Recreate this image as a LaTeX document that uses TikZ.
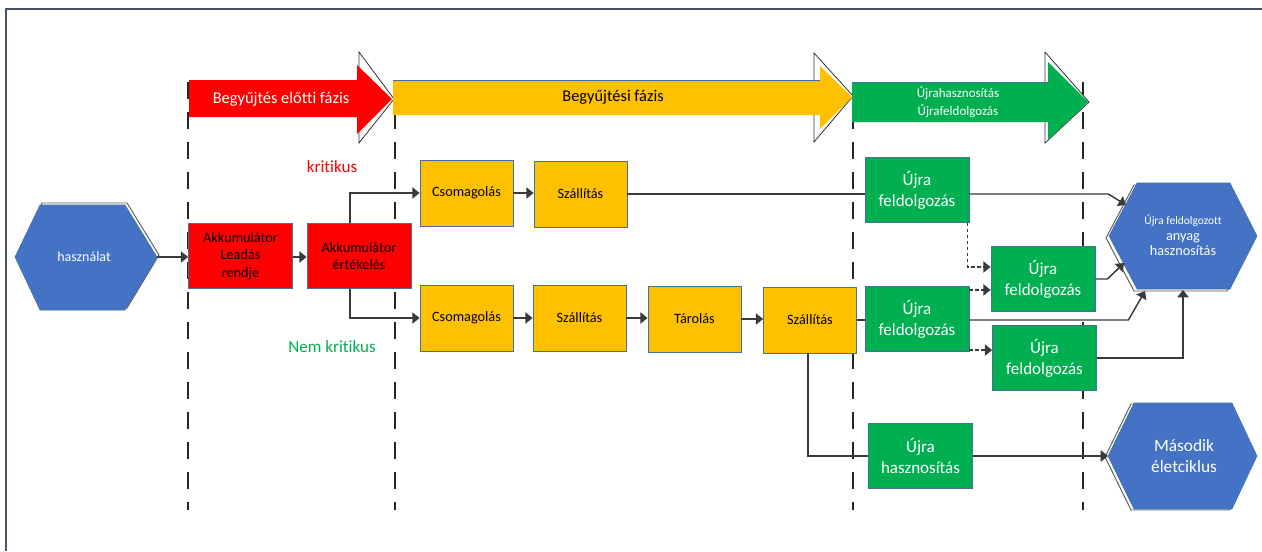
\documentclass[tikz,border=0pt]{standalone}
\usepackage{fontspec}
\setmainfont{Carlito}[Ligatures=NoCommon]
\usetikzlibrary{arrows.meta}
\definecolor{hexblue}{HTML}{4472C4}
\definecolor{boxred}{HTML}{FF0000}
\definecolor{boxyellow}{HTML}{FFC000}
\definecolor{boxgreen}{HTML}{00B050}
\definecolor{edgeblue}{HTML}{41719C}
\definecolor{framecol}{HTML}{44546A}
\definecolor{linegray}{HTML}{3A3A3A}
\definecolor{labelgreen}{HTML}{00B050}

\begin{document}
\begin{tikzpicture}[x=0.75pt,y=-0.75pt,
  box/.style={draw=edgeblue,line width=0.6pt,minimum width=69.75pt,minimum height=49.5pt,
    inner sep=1pt,align=center,font=\fontsize{10.7}{13}\selectfont},
  redbox/.style={box,fill=boxred,minimum width=78pt,minimum height=49pt,text=black},
  yelbox/.style={box,fill=boxyellow,text=black},
  grnbox/.style={box,fill=boxgreen,minimum width=78pt,minimum height=49pt,text=white,
    font=\fontsize{12.75}{15.75}\selectfont},
  hexa/.style={fill=hexblue,draw=edgeblue,line width=0.4pt},
  ghost/.style={draw=black!65,line width=0.7pt},
  hextext/.style={text=white,align=center,inner sep=0pt},
  conn/.style={draw=linegray,line width=1.1pt,-{Triangle[length=5.5pt,width=8.5pt]}},
  link/.style={draw=linegray,line width=1.1pt},
  dotconn/.style={conn,dash pattern=on 2.5pt off 2pt},
  phase/.style={draw=black!85,line width=1.3pt,dash pattern=on 13pt off 9.5pt},
  headghost/.style={fill=white,draw=black!80,line width=0.6pt}
]
\useasboundingbox (0,0) rectangle (1262,551);

% frame
\draw[framecol,line width=0.8pt] (6,551) -- (6,9) -- (1262,9);

% phase boundaries
\foreach \x in {188,395,853,1083}
  \draw[phase] (\x,82) -- (\x,510);

% phase arrows: outlined heads behind the coloured arrows
\draw[headghost] (359,52) -- (394,99) -- (359,143) -- cycle;
\draw[headghost] (814,53) -- (853,96) -- (814,142) -- cycle;
\draw[headghost] (1045,52) -- (1089,102) -- (1045,143) -- cycle;

\fill[boxyellow] (393,80) -- (820,80) -- (820,66) -- (852,97) -- (820,129) -- (820,115) -- (393,115) -- cycle;
\draw[edgeblue,line width=0.4pt] (393,80) -- (820,80);
\fill[boxred] (189,80) -- (357,80) -- (357,65) -- (392,99) -- (357,134) -- (357,117) -- (189,117) -- cycle;
\fill[boxgreen] (852,82) -- (1048,82) -- (1048,62) -- (1088,102) -- (1048,140) -- (1048,122) -- (852,122) -- cycle;
\draw[edgeblue,line width=0.4pt] (852,82) -- (1048,82);

\node[text=white,font=\fontsize{12.3}{14}\selectfont] (ph1) at (281,99) {Begyűjtés előtti fázis};
\node[text=black,font=\fontsize{12.3}{14}\selectfont] (ph2) at (613,97) {Begyűjtési fázis};
\node[text=white,align=center,font=\fontsize{9.75}{13.5}\selectfont] (ph3) at (958,102) {Újrahasznosítás\\Újrafeldolgozás};

% hexagons
\draw[ghost,shift={(2,-2)}] (15,257) -- (40,205) -- (125,205) -- (157,257) -- (125,310) -- (40,310) -- cycle;
\path[hexa] (15,257) -- (40,205) -- (125,205) -- (157,257) -- (125,310) -- (40,310) -- cycle;
\node[hextext,font=\fontsize{10.5}{12}\selectfont] (hex0) at (84,257) {használat};
\coordinate (hex0r) at (157,257);

\draw[ghost,shift={(-3,2)}] (1109,236) -- (1137,183) -- (1230,183) -- (1257,236) -- (1230,289) -- (1137,289) -- cycle;
\path[hexa] (1109,236) -- (1137,183) -- (1230,183) -- (1257,236) -- (1230,289) -- (1137,289) -- cycle;
\node[hextext,font=\fontsize{10.7}{11}\selectfont] (hex1) at (1183,235)
  {{\fontsize{8.6}{10}\selectfont Újra feldolgozott}\\[1.5pt]anyag\\hasznosítás};
\coordinate (h1a) at (1126,205);
\coordinate (h1b) at (1124,263);
\coordinate (h1c) at (1145,291);
\coordinate (h1d) at (1183,290);

\draw[ghost,shift={(-3,1)}] (1108,456) -- (1134,403) -- (1232,403) -- (1257,456) -- (1232,509) -- (1134,509) -- cycle;
\path[hexa] (1108,456) -- (1134,403) -- (1232,403) -- (1257,456) -- (1232,509) -- (1134,509) -- cycle;
\node[hextext,font=\fontsize{13}{15.75}\selectfont] (hex2) at (1184,456) {Második\\életciklus};
\coordinate (h2l) at (1108,456);

% pre-collection
\node[redbox] (r1) at (240.5,256) {Akkumulátor\\Leadás\\rendje};
\node[redbox] (r2) at (359,256) {Akkumulátor\\értékelés};

\node[text=boxred,font=\fontsize{12.8}{14}\selectfont] (lk) at (332,167) {kritikus};
\node[text=labelgreen,font=\fontsize{12.8}{14}\selectfont] (lnk) at (332,347) {Nem kritikus};

% collection
\node[yelbox] (c1) at (466.5,193) {Csomagolás};
\node[yelbox] (s1) at (580.5,194) {Szállítás};
\node[yelbox] (c2) at (466.5,318) {Csomagolás};
\node[yelbox] (s2) at (579.5,318) {Szállítás};
\node[yelbox] (t)  at (694.5,319) {Tárolás};
\node[yelbox] (s3) at (810,320) {Szállítás};

% recycling / reuse
\node[grnbox] (g1) at (917,190) {Újra\\feldolgozás};
\node[grnbox] (g2) at (1043,279) {Újra\\feldolgozás};
\node[grnbox] (g3) at (917,319) {Újra\\feldolgozás};
\node[grnbox] (g4) at (1044.5,358) {Újra\\feldolgozás};
\node[grnbox] (g5) at (920.5,456) {Újra\\hasznosítás};

% connectors
\draw[conn] (hex0r) -- (hex0r -| r1.west);
\draw[conn] (r1.east |- hex0r) -- (r2.west |- hex0r);
\draw[conn] ([xshift=-6.75pt]r2.north) |- (c1.west);
\draw[conn] ([xshift=-6.75pt]r2.south) |- (c2.west);
\draw[conn] (c1.east) -- (c1.east -| s1.west);
\draw[conn] (c2) -- (s2);
\draw[conn] (s2.east) -- (s2.east -| t.west);
\draw[conn] (t.east) -- (t.east -| s3.west);

\draw[link] (s1.east) -- (s1.east -| g1.west);
\draw[conn] (g1.east |- s1.east) -- ++(139,0) -- (h1a);
\draw[dotconn] ([xshift=-1.5pt]g1.south east) |- ([yshift=9pt]g2.west);
\draw[dotconn] ([yshift=-3pt]g3.north east) -- ([yshift=-3pt]g3.north east -| g2.west);
\draw[dotconn] ([yshift=1.5pt]g3.south east) -- ([yshift=1.5pt]g3.south east -| g4.west);
\draw[conn] (g2.east) -- ++(12,0) -- (h1b);

\draw[link] (s3.east) -- (s3.east -| g3.west);
\draw[conn] (g3.east |- s3.east) -- ++(159,0) -- (h1c);
\draw[conn] (g4.east) -| (h1d);

\draw[link] ([xshift=-1.5pt]s3.south) |- (g5.west);
\draw[conn] (g5.east) -- (h2l);
\end{tikzpicture}
\end{document}
